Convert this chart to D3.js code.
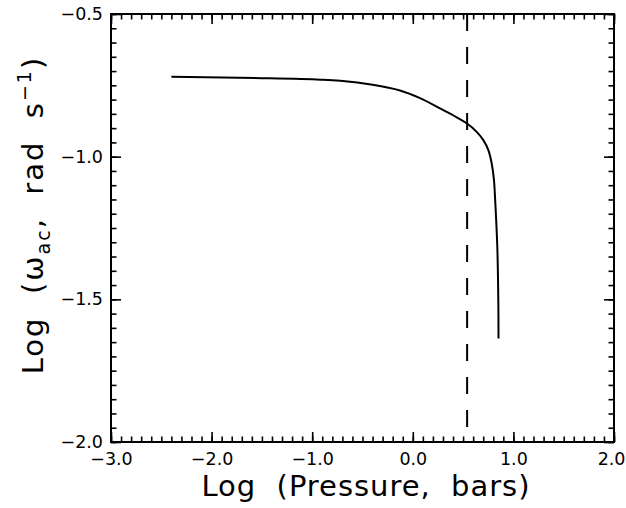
<!DOCTYPE html>
<html>
<head>
<meta charset="utf-8">
<script src="https://cdn.jsdelivr.net/npm/d3@7"></script>
<style>
  body { margin: 0; background: #fff; }
  svg { display: block; }
  .axis path { display: none; }
  .axis line { stroke: #000; stroke-width: 1.6px; }
  .axis text { font-family: "DejaVu Sans", sans-serif; font-size: 17.5px; fill: #000; }
</style>
</head>
<body>
<div id="chart"></div>
<script>
// values
var logPressure = [-2.40, -1.50, -0.92, -0.72, -0.40, -0.127, 0.072, 0.270, 0.436, 0.536, 0.635, 0.701, 0.751, 0.784, 0.807, 0.817, 0.840, 0.850, 0.852];
var logOmega    = [-0.720, -0.725, -0.730, -0.734, -0.748, -0.768, -0.795, -0.831, -0.862, -0.883, -0.913, -0.942, -0.977, -1.023, -1.082, -1.140, -1.316, -1.502, -1.637];
var dashedPressure = 0.54;

var xTicks = [-3.0, -2.0, -1.0, 0.0, 1.0, 2.0];
var yTicks = [-2.0, -1.5, -1.0, -0.5];
var xMinor = d3.range(-30, 21).map(function(d){ return d / 10; });
var yMinor = d3.range(-40, -9).map(function(d){ return d / 20; });

var width = 626, height = 508;
var plotLeft = 111, plotRight = 614, plotTop = 14, plotBottom = 442;

var x = d3.scaleLinear().domain([-3, 2]).range([plotLeft, plotRight]);
var y = d3.scaleLinear().domain([-2, -0.5]).range([plotBottom, plotTop]);

var fmt = function(d){ return d3.format(".1f")(d).replace("-", "\u2212"); };

var svg = d3.select("#chart")
    .append("svg")
    .attr("width", width)
    .attr("height", height);

// minor ticks, all four sides, pointing in
svg.append("g").attr("class", "axis")
    .attr("transform", "translate(0," + plotBottom + ")")
    .call(d3.axisBottom(x).tickValues(xMinor).tickSize(-5.5).tickFormat(""));
svg.append("g").attr("class", "axis")
    .attr("transform", "translate(0," + plotTop + ")")
    .call(d3.axisTop(x).tickValues(xMinor).tickSize(-5.5).tickFormat(""));
svg.append("g").attr("class", "axis")
    .attr("transform", "translate(" + plotLeft + ",0)")
    .call(d3.axisLeft(y).tickValues(yMinor).tickSize(-5.5).tickFormat(""));
svg.append("g").attr("class", "axis")
    .attr("transform", "translate(" + plotRight + ",0)")
    .call(d3.axisRight(y).tickValues(yMinor).tickSize(-5.5).tickFormat(""));

// major ticks with labels
var xAxis = svg.append("g").attr("class", "axis")
    .attr("transform", "translate(0," + plotBottom + ")")
    .call(d3.axisBottom(x).tickValues(xTicks).tickSize(-10).tickFormat(fmt));
xAxis.selectAll("text").attr("y", 23).attr("dy", 0);
// last label sits against the right edge
xAxis.selectAll("text")
    .filter(function(d){ return d === 2.0; })
    .attr("text-anchor", "end")
    .attr("x", 11);
svg.append("g").attr("class", "axis")
    .attr("transform", "translate(0," + plotTop + ")")
    .call(d3.axisTop(x).tickValues(xTicks).tickSize(-10).tickFormat(""));
var yAxis = svg.append("g").attr("class", "axis")
    .attr("transform", "translate(" + plotLeft + ",0)")
    .call(d3.axisLeft(y).tickValues(yTicks).tickSize(-10).tickFormat(fmt));
yAxis.selectAll("text").attr("x", -8);
svg.append("g").attr("class", "axis")
    .attr("transform", "translate(" + plotRight + ",0)")
    .call(d3.axisRight(y).tickValues(yTicks).tickSize(-10).tickFormat(""));

// frame
svg.append("rect")
    .attr("x", plotLeft)
    .attr("y", plotTop)
    .attr("width", plotRight - plotLeft)
    .attr("height", plotBottom - plotTop)
    .style("fill", "none")
    .style("stroke", "#000")
    .style("stroke-width", 2);

// dashed line
svg.append("line")
    .attr("x1", x(dashedPressure))
    .attr("x2", x(dashedPressure))
    .attr("y1", y(-0.5))
    .attr("y2", y(-2))
    .style("stroke", "#000")
    .style("stroke-width", 2)
    .style("stroke-dasharray", "17,16");

// curve
var pts = logPressure.map(function(d, i){ return [d, logOmega[i]]; });
var line = d3.line()
    .x(function(d){ return x(d[0]); })
    .y(function(d){ return y(d[1]); })
    .curve(d3.curveCatmullRom.alpha(0.5));

svg.append("path")
    .datum(pts)
    .attr("d", line)
    .style("fill", "none")
    .style("stroke", "#000")
    .style("stroke-width", 2);

// axis titles
svg.append("text")
    .attr("x", (plotLeft + plotRight) / 2 + 3)
    .attr("y", 496)
    .attr("text-anchor", "middle")
    .style("font-family", "\"DejaVu Sans\", sans-serif")
    .style("font-size", "29px")
    .attr("textLength", 328)
    .attr("xml:space", "preserve")
    .text("Log  (Pressure,  bars)");

var yt = svg.append("text")
    .attr("transform", "translate(43,215) rotate(-90)")
    .attr("text-anchor", "middle")
    .attr("xml:space", "preserve")
    .style("font-family", "\"DejaVu Sans\", sans-serif")
    .style("font-size", "29px")
    .style("letter-spacing", "2px");
yt.append("tspan").text("Log  (\u03c9");
yt.append("tspan").attr("dy", 7).style("font-size", "19px").text("ac");
yt.append("tspan").attr("dy", -7).text(",  rad  s");
yt.append("tspan").attr("dy", -12).style("font-size", "19px").text("\u22121");
yt.append("tspan").attr("dy", 12).text(")");
</script>
</body>
</html>
